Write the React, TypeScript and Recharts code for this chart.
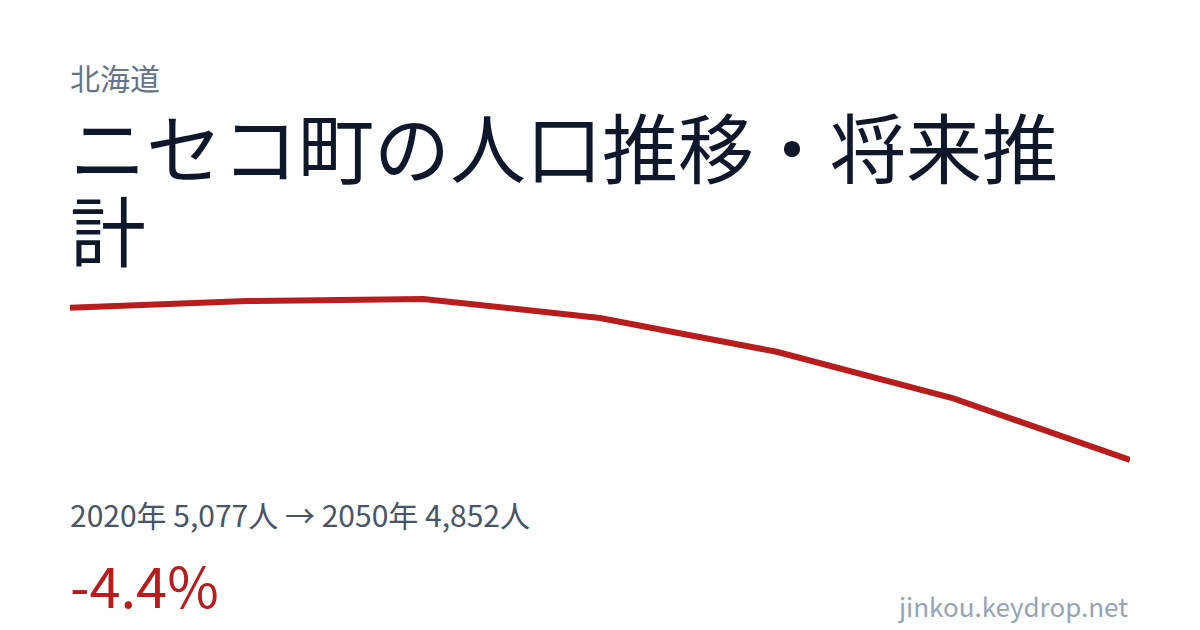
import * as React from 'react';
import { LineChart, Line, XAxis, YAxis } from 'recharts';

// population of ニセコ町 (census 2020 + projections)
const years = [2020, 2025, 2030, 2035, 2040, 2045, 2050];
const population = [5077, 5087, 5090, 5062, 5012, 4943, 4852];

const prefecture = '北海道';
const title = 'ニセコ町の人口推移・将来推計';
const site = 'jinkou.keydrop.net';

const FONT = '"Noto Sans CJK JP", "Noto Sans", sans-serif';
const RED = '#b91c1c';

const chartData = years.map((y, i) => ({ year: y, value: population[i] }));

const first = population[0];
const last = population[population.length - 1];
const change = ((last - first) / first) * 100;
const summary = `${years[0]}年 ${first.toLocaleString('en-US')}人 → ${years[years.length - 1]}年 ${last.toLocaleString('en-US')}人`;
const changeLabel = `${change > 0 ? '+' : ''}${change.toFixed(1)}%`;

export default function App() {
  return (
    <div
      style={{
        position: 'absolute',
        left: 0,
        top: 0,
        width: 1200,
        height: 630,
        background: '#ffffff',
        overflow: 'hidden',
        fontFamily: FONT,
      }}
    >
      <div style={{ position: 'absolute', left: 70, top: 62, fontSize: 30, lineHeight: '30px', color: '#64748b' }}>
        {prefecture}
      </div>
      <div
        style={{
          position: 'absolute',
          left: 70,
          top: 104,
          width: 1060,
          fontSize: 76,
          lineHeight: '83px',
          color: '#0f172a',
        }}
      >
        {title}
      </div>

      <div style={{ position: 'absolute', left: 70, top: 290 }}>
        <LineChart width={1060} height={180} data={chartData} margin={{ top: 9, right: 0, bottom: 10, left: 0 }}>
          <XAxis dataKey="year" type="number" domain={['dataMin', 'dataMax']} hide />
          <YAxis domain={['dataMin', 'dataMax']} hide />
          <Line
            type="linear"
            dataKey="value"
            stroke={RED}
            strokeWidth={6}
            dot={false}
            activeDot={false}
            isAnimationActive={false}
          />
        </LineChart>
      </div>

      <div style={{ position: 'absolute', left: 70, top: 499, fontSize: 30, lineHeight: '30px', color: '#475569' }}>
        {summary}
      </div>
      <div style={{ position: 'absolute', left: 70, top: 556, fontSize: 56, lineHeight: '56px', color: RED }}>
        {changeLabel}
      </div>
      <div
        style={{
          position: 'absolute',
          right: 72,
          top: 593,
          fontSize: 26,
          lineHeight: '26px',
          color: '#94a3b8',
        }}
      >
        {site}
      </div>
    </div>
  );
}
